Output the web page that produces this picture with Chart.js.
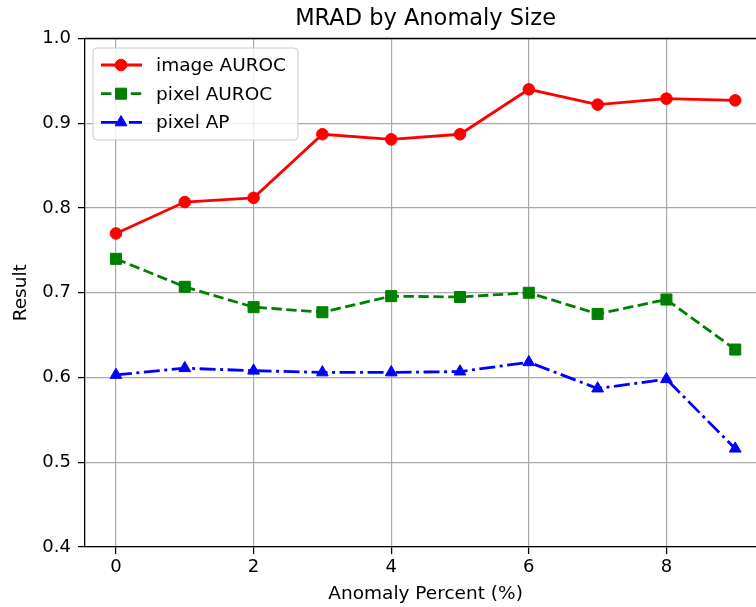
<!DOCTYPE html>
<html>
<head>
<meta charset="utf-8">
<script src="https://cdn.jsdelivr.net/npm/chart.js@4/dist/chart.umd.min.js"></script>
<style>
  html, body { margin: 0; padding: 0; overflow: hidden; background: #fff; }
  #wrap { width: 775px; height: 607px; }
</style>
</head>
<body>
<div id="wrap"><canvas id="myChart"></canvas></div>
<script>
"use strict";

// data
const percents = [0, 1, 2, 3, 4, 5, 6, 7, 8, 9];
const imageAuroc = [0.770, 0.807, 0.812, 0.887, 0.881, 0.887, 0.940, 0.922, 0.929, 0.927];
const pixelAuroc = [0.740, 0.707, 0.683, 0.677, 0.696, 0.695, 0.700, 0.675, 0.692, 0.633];
const pixelAp = [0.603, 0.611, 0.608, 0.606, 0.606, 0.607, 0.618, 0.587, 0.598, 0.516];
const xTicks = [0, 2, 4, 6, 8];
const yTicks = [0.4, 0.5, 0.6, 0.7, 0.8, 0.9, 1.0];

const FONT = "'DejaVu Sans', sans-serif";
const toPoints = (ys) => percents.map((x, i) => ({ x: x, y: ys[i] }));

function drawMarker(ctx, style, x, y, r) {
  ctx.beginPath();
  if (style === 'rect') {
    const s = r * Math.SQRT1_2;
    ctx.rect(x - s, y - s, 2 * s, 2 * s);
  } else if (style === 'triangle') {
    ctx.moveTo(x, y - r);
    ctx.lineTo(x + r * Math.sin(Math.PI / 3), y + r / 2);
    ctx.lineTo(x - r * Math.sin(Math.PI / 3), y + r / 2);
    ctx.closePath();
  } else {
    ctx.arc(x, y, r, 0, Math.PI * 2);
  }
  ctx.fill();
  ctx.stroke();
}

// top/right spines and a matplotlib-like legend
const framePlugin = {
  id: 'frame',
  afterDraw(chart) {
    const { ctx, chartArea: a } = chart;
    ctx.save();
    ctx.strokeStyle = '#000';
    ctx.lineWidth = 1.3;
    ctx.beginPath();
    ctx.moveTo(a.left, a.top);
    ctx.lineTo(a.right, a.top);
    ctx.lineTo(a.right, a.bottom);
    ctx.stroke();

    const bx = a.left + 8, by = a.top + 9.5, bw = 205, bh = 92;
    ctx.beginPath();
    ctx.roundRect(bx, by, bw, bh, 4);
    ctx.fillStyle = 'rgba(255,255,255,0.8)';
    ctx.fill();
    ctx.strokeStyle = '#cccccc';
    ctx.lineWidth = 1;
    ctx.stroke();

    chart.data.datasets.forEach((ds, i) => {
      const ry = by + 17 + i * 28.7;
      ctx.strokeStyle = ds.borderColor;
      ctx.lineWidth = ds.borderWidth;
      ctx.setLineDash(ds.borderDash || []);
      ctx.beginPath();
      ctx.moveTo(bx + 8, ry);
      ctx.lineTo(bx + 49, ry);
      ctx.stroke();
      ctx.setLineDash([]);
      ctx.fillStyle = ds.pointBackgroundColor;
      ctx.lineWidth = ds.pointBorderWidth;
      drawMarker(ctx, ds.pointStyle, bx + 28, ry, ds.pointRadius);
      ctx.fillStyle = '#000';
      ctx.font = '18.5px ' + FONT;
      ctx.textBaseline = 'middle';
      ctx.textAlign = 'left';
      ctx.fillText(ds.label, bx + 63, ry + 1);
    });
    ctx.restore();
  }
};

const data = {
  datasets: [
    {
      label: 'image AUROC',
      data: toPoints(imageAuroc),
      borderColor: '#ff0000',
      pointBackgroundColor: '#ff0000',
      pointStyle: 'circle',
      pointRadius: 5.8,
    },
    {
      label: 'pixel AUROC',
      data: toPoints(pixelAuroc),
      borderColor: '#008000',
      pointBackgroundColor: '#008000',
      pointStyle: 'rect',
      pointRadius: 7.8,
      borderDash: [10.4, 4.5],
    },
    {
      label: 'pixel AP',
      data: toPoints(pixelAp),
      borderColor: '#0000ff',
      pointBackgroundColor: '#0000ff',
      pointStyle: 'triangle',
      pointRadius: 6.8,
      borderDash: [16, 4.5, 3, 4.5],
    },
  ]
};
data.datasets.forEach((ds, i) => {
  ds.borderWidth = 2.8;
  ds.pointBorderColor = ds.borderColor;
  ds.pointBorderWidth = 1;
  ds.pointHoverRadius = ds.pointRadius;
  ds.tension = 0;
  ds.fill = false;
  ds.clip = false;
  ds.order = -i;
});

const gridOpts = {
  color: '#a8a8a8',
  lineWidth: 1.2,
  drawTicks: true,
  tickLength: 7,
  tickColor: '#000',
  tickWidth: 1.3,
};

const config = {
  type: 'line',
  data: data,
  plugins: [framePlugin],
  options: {
    responsive: true,
    maintainAspectRatio: false,
    animation: false,
    layout: { padding: { left: 0, right: 5, top: 0, bottom: 0 } },
    plugins: {
      legend: { display: false },
      tooltip: { enabled: false },
      title: {
        display: true,
        fullSize: false,
        text: 'MRAD by Anomaly Size',
        color: '#000',
        font: { family: FONT, size: 22.5, weight: 'normal' },
        padding: { top: 6, bottom: 5.5 }
      }
    },
    scales: {
      x: {
        type: 'linear',
        min: -0.45,
        max: 9.45,
        afterBuildTicks: (s) => { s.ticks = xTicks.map(v => ({ value: v })); },
        afterFit: (s) => { s.height = 60; },
        ticks: {
          color: '#000',
          font: { family: FONT, size: 18 },
          padding: 3,
          maxRotation: 0,
          autoSkip: false,
        },
        grid: gridOpts,
        border: { color: '#000', width: 1.3 },
        title: {
          display: true,
          text: 'Anomaly Percent (%)',
          color: '#000',
          font: { family: FONT, size: 18.5 },
          padding: { top: 0, bottom: 2 }
        }
      },
      y: {
        min: 0.4,
        max: 1.0,
        afterBuildTicks: (s) => { s.ticks = yTicks.map(v => ({ value: v })); },
        afterFit: (s) => { s.width = 85; },
        ticks: {
          color: '#000',
          font: { family: FONT, size: 18 },
          padding: 7,
          autoSkip: false,
          callback: (v) => Number(v).toFixed(1)
        },
        grid: gridOpts,
        border: { color: '#000', width: 1.3 },
        title: {
          display: true,
          text: 'Result',
          color: '#000',
          font: { family: FONT, size: 18.5 },
          padding: { top: 10, bottom: 0 }
        }
      }
    }
  }
};

const ctx = document.querySelector('#myChart').getContext('2d');
const myChart = new Chart(ctx, config);
</script>
</body>
</html>
